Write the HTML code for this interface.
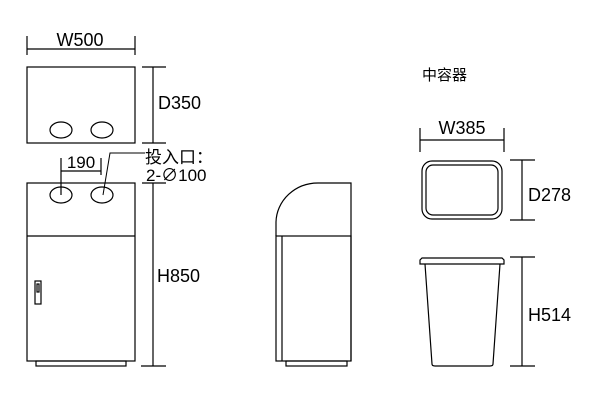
<!DOCTYPE html>
<html><head><style>body{margin:0;background:#fff}svg text{font-family:"Liberation Sans","Noto Sans CJK SC",sans-serif;fill:#000}</style></head>
<body>
<svg width="600" height="400" viewBox="0 0 600 400" xmlns="http://www.w3.org/2000/svg" fill="none" stroke="#000" stroke-width="1.2">
<!-- top view -->
<line x1="27" y1="36" x2="27" y2="55"/><line x1="135" y1="36" x2="135" y2="55"/>
<line x1="27" y1="49" x2="135" y2="49"/>
<text x="80" y="46" font-size="18" text-anchor="middle" stroke="none">W500</text>
<rect x="27" y="67" width="108" height="76"/>
<ellipse cx="61" cy="130" rx="11" ry="8"/><ellipse cx="102" cy="130" rx="11" ry="8"/>
<line x1="142" y1="67" x2="166" y2="67"/><line x1="142" y1="143" x2="166" y2="143"/>
<line x1="153" y1="67" x2="153" y2="143"/>
<text x="158" y="109" font-size="18" stroke="none">D350</text>
<!-- front -->
<line x1="142" y1="183" x2="166" y2="183"/>
<line x1="153" y1="183" x2="153" y2="366"/>
<line x1="141" y1="366" x2="166" y2="366"/>
<text x="157" y="282" font-size="18" stroke="none">H850</text>
<rect x="27" y="183" width="108" height="178"/>
<line x1="27" y1="236" x2="135" y2="236"/>
<ellipse cx="61" cy="195" rx="11" ry="8"/><ellipse cx="102" cy="195" rx="11" ry="8"/>
<rect x="36" y="361" width="90" height="5"/>
<rect x="35" y="281" width="6" height="23"/><rect x="37" y="284" width="2" height="8"/>
<line x1="61" y1="158" x2="61" y2="195"/><line x1="101" y1="158" x2="101" y2="175"/>
<line x1="61" y1="171" x2="101" y2="171"/>
<text x="81" y="168" font-size="17" text-anchor="middle" stroke="none">190</text>
<polyline points="103,195 110,153 145,153" stroke-width="1"/>
<text x="145" y="163" font-size="17" stroke="none">投入口：</text>
<text x="146" y="181" font-size="17" stroke="none">2-∅100</text>
<!-- side -->
<path d="M276 236 L276 222 A42 40 0 0 1 318 183 L351 183 L351 361"/>
<rect x="276" y="236" width="75" height="125"/>
<line x1="282" y1="236" x2="282" y2="361"/>
<rect x="286" y="361" width="61" height="5"/>
<!-- right -->
<text x="422" y="80" font-size="15" stroke="none">中容器</text>
<line x1="420" y1="128" x2="420" y2="152"/><line x1="504" y1="128" x2="504" y2="152"/>
<line x1="420" y1="140" x2="504" y2="140"/>
<text x="462" y="134" font-size="18" text-anchor="middle" stroke="none">W385</text>
<rect x="422" y="161" width="80" height="58" rx="10"/>
<rect x="426" y="165" width="72" height="50" rx="7"/>
<line x1="510" y1="160" x2="535" y2="160"/><line x1="510" y1="220" x2="535" y2="220"/>
<line x1="522" y1="160" x2="522" y2="220"/>
<text x="528" y="201" font-size="18" stroke="none">D278</text>
<path d="M422 258 L502 258 L504 260 L504 264 L420 264 L420 260 Z"/>
<path d="M425 264 L432 364 Q432 366 435 366 L490 366 Q493 366 493 364 L500 264"/>
<line x1="510" y1="257" x2="535" y2="257"/><line x1="510" y1="366" x2="535" y2="366"/>
<line x1="522" y1="257" x2="522" y2="366"/>
<text x="528" y="321" font-size="18" stroke="none">H514</text>
</svg>
</body></html>
